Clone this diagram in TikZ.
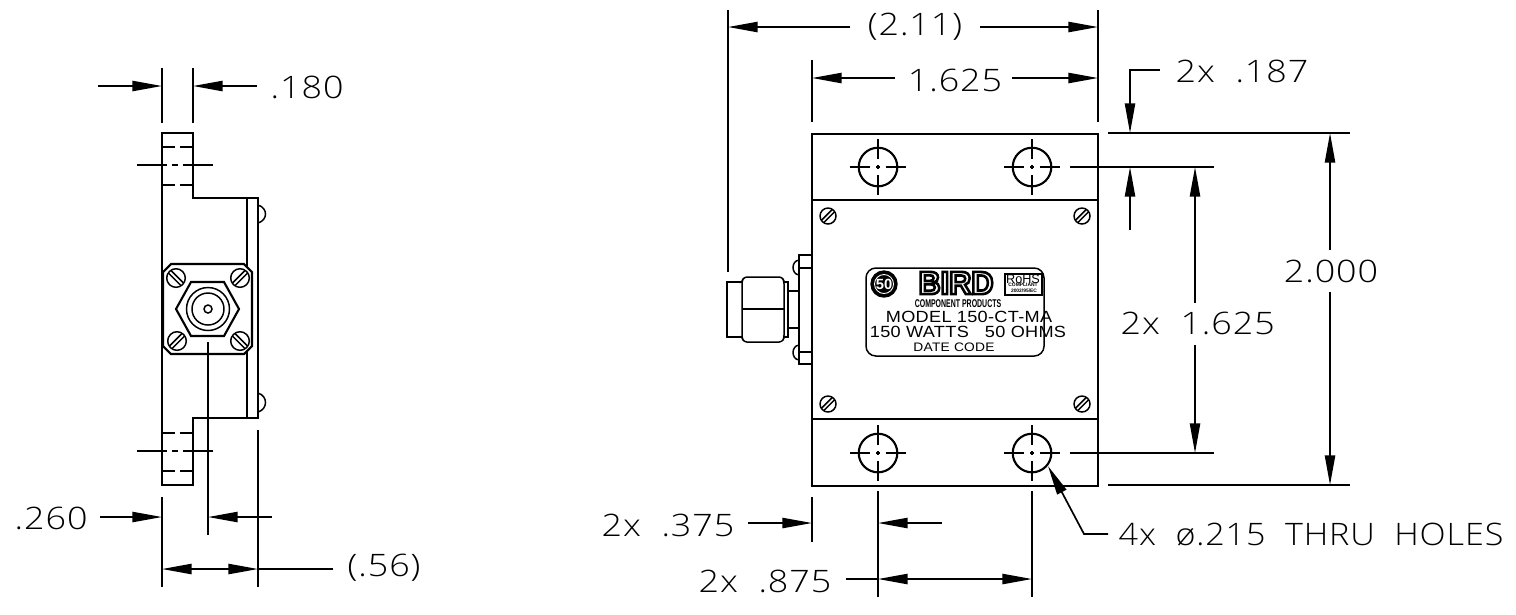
\documentclass[tikz,border=0pt]{standalone}
\usepackage{fontspec}
\setmainfont{Liberation Sans}
\newfontfamily\dimfont[LetterSpace=3,FakeStretch=1.16]{Open Sans Light}
\newfontfamily\plaquefont[LetterSpace=2,FakeStretch=1.12]{Liberation Sans}
\usetikzlibrary{arrows.meta}
\tikzset{
  outline/.style={line width=0.6pt},
  thinpart/.style={line width=0.42pt},
  dimline/.style={line width=0.48pt},
  tipdim/.style={-{Triangle[length=8.4pt,width=2.9pt]}},
  bothtip/.style={{Triangle[length=8.4pt,width=2.9pt]}-{Triangle[length=8.4pt,width=2.9pt]}},
  holemark/.style={line width=0.55pt,dash pattern=on 5.7pt off 1.7pt on 1.1pt off 1.7pt on 5.7pt off 20pt},
  tabcenter/.style={line width=0.55pt,dash pattern=on 8.5pt off 1.4pt on 1.7pt off 1.4pt on 8.5pt off 20pt},
  tabhidden/.style={line width=0.55pt,dash pattern=on 3.7pt off 1.4pt on 3.7pt off 20pt},
  dimlabel/.style={font=\dimfont\fontsize{8.8pt}{10pt}\selectfont,inner sep=0pt},
  plaquetext/.style={inner sep=0pt,align=center}
}
\begin{document}
\begin{tikzpicture}[x=0.01cm,y=-0.01cm]
  \useasboundingbox (0,0) rectangle (1516,614);

  % Drawing side view outline
  \draw [outline] (162,133) -- (193,133) -- (193,198) -- (258,198) -- (258,418) -- (193,418) -- (193,485) -- (162,485) -- cycle;
  \draw [thinpart] (247,198) -- (247,418);

  % Drawing side view domes
  \draw [thinpart] (258,205) .. controls (268,208) and (268,220) .. (258,223);
  \draw [thinpart] (258,393) .. controls (268,396) and (268,409) .. (258,412);

  % Drawing tab holes
  \foreach \hy in {147,185,433,471} {
    \draw [tabhidden] (162,\hy) -- (193,\hy);
  }
  \foreach \cy in {165,451} {
    \draw [tabcenter] (137,\cy) -- (213,\cy);
  }

  % Drawing connector flange
  \draw [fill=white,outline] (171,264) -- (244,264) -- (252,272) -- (252,346) -- (244,354) -- (171,354) -- (163,346) -- (163,272) -- cycle;
  \draw [outline] (191,282) -- (224,282) -- (239,309) -- (224,336) -- (191,336) -- (176,309) -- cycle;
  \draw [thinpart] (208,309) circle [radius=21.5];
  \draw [thinpart] (208,309) circle [radius=16];
  \draw [thinpart] (208,309) circle [radius=4];

  % Drawing flange screws
  \foreach \sx/\sy/\sa in {176/278/-45,240/278/45,177/341/45,240/341/-45} {
    \begin{scope}[shift={(\sx,\sy)},rotate=\sa]
      \draw [thinpart,fill=white] (0,0) circle [radius=9.3];
      \draw [thinpart] (-9,-1.8) -- (9,-1.8);
      \draw [thinpart] (-9,1.8) -- (9,1.8);
    \end{scope}
  }

  % Drawing dimension .180
  \draw [dimline] (162,68) -- (162,123);
  \draw [dimline] (193,68) -- (193,123);
  \draw [dimline,tipdim] (98,86) -- (162,86);
  \draw [dimline,tipdim] (257,86) -- (193,86);
  \node (dimTabWidth) [dimlabel,anchor=west] at (270,87) {.180};

  % Drawing dimension .260
  \draw [dimline] (208,342) -- (208,535);
  \draw [dimline] (162,497) -- (162,587);
  \draw [dimline] (258,430) -- (258,587);
  \draw [dimline,tipdim] (100,517) -- (162,517);
  \draw [dimline,tipdim] (272,517) -- (208,517);
  \node (dimPortOffset) [dimlabel,anchor=west] at (14,518) {.260};

  % Drawing dimension (.56)
  \draw [dimline,bothtip] (162,569) -- (258,569);
  \draw [dimline] (258,569) -- (333,569);
  \node (dimSideDepth) [dimlabel,anchor=west] at (347,568) {(.56)};

  % Drawing front view outline
  \draw [outline] (812,134) rectangle (1098,486);
  \draw [thinpart] (812,200) -- (1098,200);
  \draw [thinpart] (812,419) -- (1098,419);

  % Drawing mounting holes
  \foreach \hx in {878,1032} {
    \foreach \hy in {167,453} {
      \draw [outline] (\hx,\hy) circle [radius=19.3];
      \draw [holemark] (\hx-28,\hy) -- (\hx+28,\hy);
      \draw [holemark] (\hx,\hy-28) -- (\hx,\hy+28);
    }
  }

  % Drawing cover screws
  \foreach \sx/\sy in {828/216,1082/216,828/404,1082/404} {
    \begin{scope}[shift={(\sx,\sy)},rotate=45]
      \draw [thinpart] (0,0) circle [radius=8];
      \draw [thinpart] (-8,-1.6) -- (8,-1.6);
      \draw [thinpart] (-8,1.6) -- (8,1.6);
    \end{scope}
  }

  % Drawing side connector
  \draw [thinpart] (742,282) -- (727,282) -- (727,337) -- (742,337);
  \draw [thinpart,rounded corners=0.8pt] (744,277) -- (782,277) -- (784,281) -- (784,338) -- (782,342) -- (744,342) -- (742,338) -- (742,281) -- cycle;
  \draw [outline] (742,309) -- (784,309);
  \draw [thinpart] (784,282) -- (788,282) -- (788,337) -- (784,337);
  \draw [thinpart] (788,291) -- (799,291);
  \draw [thinpart] (788,328) -- (799,328);
  \draw [thinpart] (812,255) -- (799,255) -- (799,364) -- (812,364);
  \draw [thinpart] (799,268) -- (812,268);
  \draw [thinpart] (799,352) -- (812,352);
  \draw [thinpart] (799,260) .. controls (791,261) and (791,274) .. (799,275);
  \draw [thinpart] (799,345) .. controls (791,346) and (791,359) .. (799,360);

  % Drawing nameplate
  \draw [thinpart,rounded corners=2.8pt] (866,268) rectangle (1044,356);
  \draw [fill=black] (884,284) circle [radius=13];
  \draw [white,line width=0.25pt] (884,284) circle [radius=9.5];
  \node (plateFifty) [plaquetext,text=white,font=\bfseries\fontsize{4.2pt}{5pt}\selectfont] at (884,284) {50};
  \node (plateLogo) [plaquetext,font=\bfseries\fontsize{9.2pt}{10pt}\selectfont,xscale=0.95] at (956,283) {\special{pdf:code 1 Tr 0.75 w}BIRD\special{pdf:code 0 Tr}};
  \draw [thinpart] (1005,274) rectangle (1042,295);
  \node (plateRohs) [plaquetext,font=\fontsize{3.6pt}{4pt}\selectfont] at (1023,279) {RoHS};
  \node (plateCompliant) [plaquetext,font=\bfseries\fontsize{1.4pt}{2pt}\selectfont] at (1023,285) {COMPLIANT};
  \node (plateDirective) [plaquetext,font=\bfseries\fontsize{1.4pt}{2pt}\selectfont] at (1024,290.5) {2002/95/EC};
  \node (plateMaker) [plaquetext,font=\bfseries\fontsize{3.2pt}{4pt}\selectfont,xscale=0.62] at (958,303.5) {COMPONENT PRODUCTS};
  \node (plateModel) [plaquetext,font=\plaquefont\fontsize{4.6pt}{5pt}\selectfont] at (969,317) {MODEL 150-CT-MA};
  \node (plateRating) [plaquetext,font=\plaquefont\fontsize{4.6pt}{5pt}\selectfont] at (968,332) {150 WATTS\ \ \ 50 OHMS};
  \node (plateDate) [plaquetext,font=\plaquefont\fontsize{3.5pt}{4pt}\selectfont] at (954,347) {DATE CODE};

  % Drawing dimension (2.11)
  \draw [dimline] (728,10) -- (728,272);
  \draw [dimline] (1098,10) -- (1098,122);
  \draw [dimline,tipdim] (850,27) -- (728,27);
  \draw [dimline,tipdim] (980,27) -- (1098,27);
  \node (dimOverallWidth) [dimlabel] at (915,27) {(2.11)};

  % Drawing dimension 1.625 across
  \draw [dimline] (812,60) -- (812,122);
  \draw [dimline,tipdim] (895,78) -- (812,78);
  \draw [dimline,tipdim] (1012,78) -- (1098,78);
  \node (dimBoxWidth) [dimlabel] at (955,80) {1.625};

  % Drawing dimension 2x .187
  \draw [dimline,tipdim] (1160,70) -- (1130,70) -- (1130,133);
  \draw [dimline,tipdim] (1130,230) -- (1130,167);
  \node (dimEdgeHole) [dimlabel,anchor=west] at (1175,71) {2x\ \ .187};

  % Drawing dimension 2x 1.625 down
  \draw [dimline] (1070,167) -- (1214,167);
  \draw [dimline] (1070,453) -- (1214,453);
  \draw [dimline,tipdim] (1195,303) -- (1195,167);
  \draw [dimline,tipdim] (1195,345) -- (1195,453);
  \node (dimHoleSpan) [dimlabel,anchor=west] at (1120,323) {2x\ \ 1.625};

  % Drawing dimension 2.000
  \draw [dimline] (1108,133) -- (1350,133);
  \draw [dimline] (1108,485) -- (1350,485);
  \draw [dimline,tipdim] (1330,250) -- (1330,133);
  \draw [dimline,tipdim] (1330,292) -- (1330,485);
  \node (dimBoxHeight) [dimlabel] at (1331,271) {2.000};

  % Drawing dimension 2x .375
  \draw [dimline] (812,497) -- (812,542);
  \draw [dimline] (878,491) -- (878,597);
  \draw [dimline] (1032,491) -- (1032,597);
  \draw [dimline,tipdim] (748,523) -- (812,523);
  \draw [dimline,tipdim] (942,523) -- (878,523);
  \node (dimEdgeColumn) [dimlabel,anchor=east] at (735,525) {2x\ \ .375};

  % Drawing dimension 2x .875
  \draw [dimline] (846,579) -- (878,579);
  \draw [dimline,bothtip] (878,579) -- (1032,579);
  \node (dimColumnSpan) [dimlabel,anchor=east] at (832,581) {2x\ \ .875};

  % Drawing hole callout
  \draw [dimline,tipdim] (1108,534) -- (1084,534) -- (1048,466);
  \node (dimHoleNote) [dimlabel,anchor=west,xscale=0.95] at (1118,535) {4x\ \ ø.215\ \ THRU\ \ HOLES};
\end{tikzpicture}
\end{document}
